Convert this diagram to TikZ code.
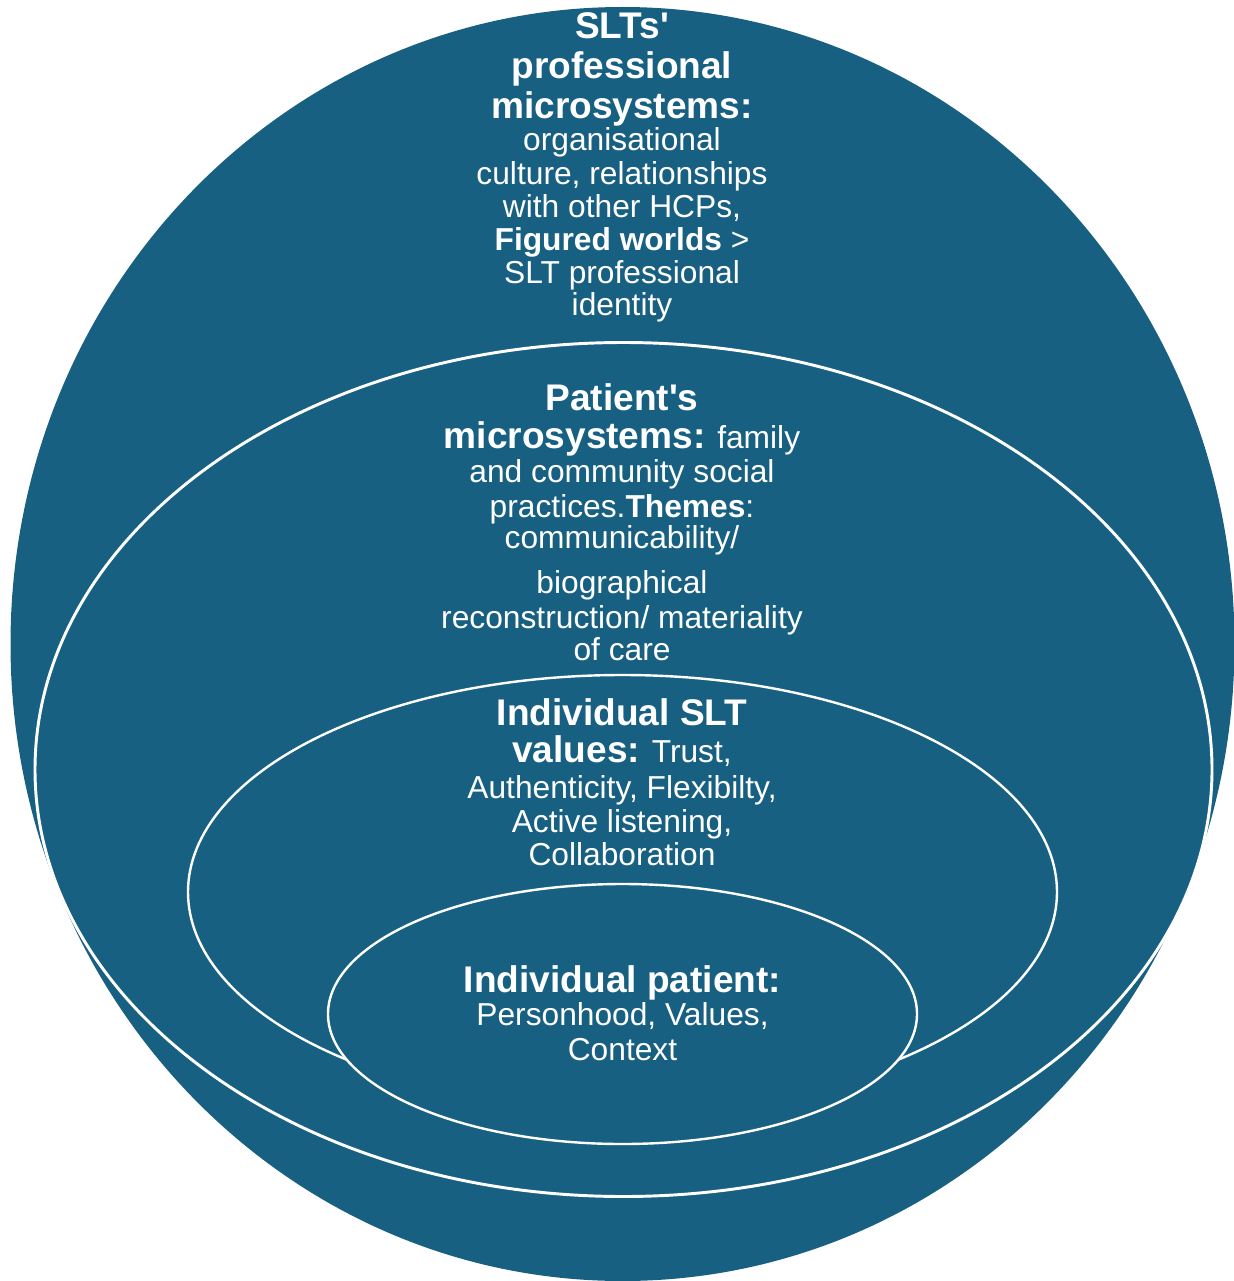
\documentclass[tikz,border=0pt]{standalone}
\usepackage{fontspec}
\setmainfont{Liberation Sans}[Ligatures=TeXOff]
\definecolor{ringblue}{HTML}{186082}
% heading words, set larger and bold
\newcommand\bighd[1]{{\fontsize{27.8}{30}\selectfont\bfseries #1}}
\begin{document}
\begin{tikzpicture}[x=0.75pt,y=-0.75pt,
  ring/.style={fill=ringblue,draw=white},
  ln/.style={anchor=base,inner sep=0pt,text=white,
             font=\fontsize{23.8}{28}\selectfont}]
\useasboundingbox (0,0) rectangle (1234,1281);

% nested ellipses, outermost first
\fill[ringblue] (622.5,644) ellipse [x radius={612*0.75pt}, y radius={637*0.75pt}];
\filldraw[ring,line width=2.2pt] (623.5,769.5) ellipse [x radius={588.5*0.75pt}, y radius={427*0.75pt}];
\filldraw[ring,line width=1.8pt] (622.5,892) ellipse [x radius={434.5*0.75pt}, y radius={217*0.75pt}];
\filldraw[ring,line width=1.8pt] (622.5,1014) ellipse [x radius={294.5*0.75pt}, y radius={130*0.75pt}];

% SLTs' professional microsystems
\node[ln] (a1) at (622,39)  {\bighd{SLTs'}};
\node[ln] (a2) at (622,79)  {\bighd{professional}};
\node[ln] (a3) at (622,118) {\bighd{microsystems:}};
\node[ln] (a4) at (622,150) {organisational};
\node[ln] (a5) at (622,184) {culture, relationships};
\node[ln] (a6) at (622,217) {with other HCPs,};
\node[ln] (a7) at (622,250) {\textbf{Figured worlds} >};
\node[ln] (a8) at (622,283) {SLT professional};
\node[ln] (a9) at (622,315) {identity};

% patient's microsystems
\node[ln] (b1) at (622,410) {\bighd{Patient's}};
\node[ln] (b2) at (622,448) {\bighd{microsystems:} family};
\node[ln] (b3) at (622,482) {and community social};
\node[ln] (b4) at (622,517) {practices.\textbf{Themes}:};
\node[ln] (b5) at (622,548) {communicability/};
\node[ln] (b6) at (622,593) {biographical};
\node[ln] (b7) at (622,628) {reconstruction/ materiality};
\node[ln] (b8) at (622,660) {of care};

% individual SLT values
\node[ln] (c1) at (622,725) {\bighd{Individual SLT}};
\node[ln] (c2) at (622,762) {\bighd{values:} Trust,};
\node[ln] (c3) at (622,798) {Authenticity, Flexibilty,};
\node[ln] (c4) at (622,832) {Active listening,};
\node[ln] (c5) at (622,865) {Collaboration};

% individual patient
\node[ln] (d1) at (622.5,992)  {\bighd{Individual patient:}};
\node[ln] (d2) at (622.5,1025) {Personhood, Values,};
\node[ln] (d3) at (622.5,1060) {Context};
\end{tikzpicture}
\end{document}
